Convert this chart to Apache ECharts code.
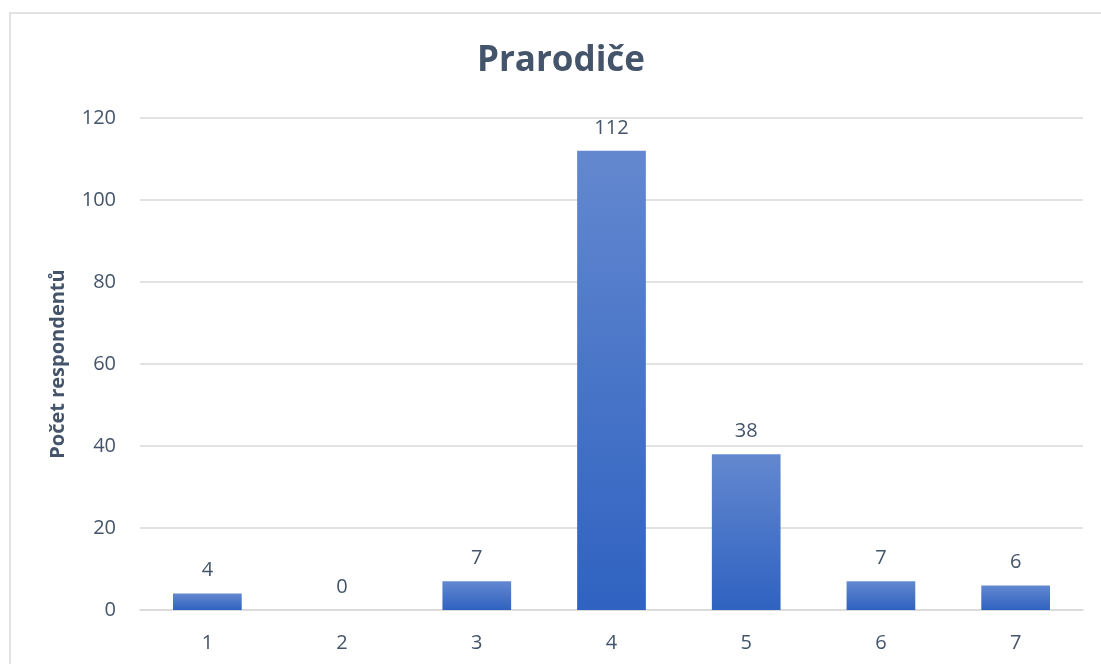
<!DOCTYPE html>
<html><head><meta charset="utf-8">
<script src="https://cdn.jsdelivr.net/npm/echarts@6/dist/echarts.min.js"></script>
<style>html,body{margin:0;padding:0;background:#fff}#c{width:1101px;height:664px}</style>
</head><body><div id="c"></div>
<script>
const categories = ['1','2','3','4','5','6','7'];
const values = [4, 0, 7, 112, 38, 7, 6];
const titleText = 'Prarodiče';
const yAxisName = 'Počet respondentů';
const yTicks = {min: 0, max: 120, interval: 20};

const txt = '#44546a';
const font = 'Open Sans';
const chart = echarts.init(document.getElementById('c'));
chart.setOption({
  animation: false,
  backgroundColor: '#fff',
  graphic: [{type:'rect', shape:{x:10, y:13, width:1200, height:800}, style:{fill:'none', stroke:'#d9d9d9', lineWidth:1.5}, silent:true}],
  title: {text: titleText, left: 556, textAlign: 'center', top: 39, textStyle:{fontFamily: font, fontSize: 35, fontWeight:'bold', color: txt}},
  grid: {left: 140, right: 18, top: 118, bottom: 54},
  xAxis: {type:'category', data: categories,
    axisLine:{lineStyle:{color:'#d9d9d9', width:1.5}}, axisTick:{show:false},
    axisLabel:{fontFamily: font, fontSize: 20, color: txt, margin: 23}},
  yAxis: {type:'value', min: yTicks.min, max: yTicks.max, interval: yTicks.interval,
    name: yAxisName, nameLocation:'middle', nameGap: 72, nameRotate: 90,
    nameTextStyle:{fontFamily: font, fontSize: 20, fontWeight:'bold', color: txt},
    axisLine:{show:false}, axisTick:{show:false},
    splitLine:{lineStyle:{color:'#d9d9d9', width:1.5}},
    axisLabel:{fontFamily: font, fontSize: 20, color: txt, margin: 24}},
  series: [{type:'bar', data: values, barWidth:'51%',
    itemStyle:{color: new echarts.graphic.LinearGradient(0,0,0,1,[{offset:0,color:'#6388cf'},{offset:1,color:'#2f62c1'}])},
    label:{show:true, position:'top', distance: 13, fontFamily: font, fontSize: 20, color: txt}}]
});
</script></body></html>
